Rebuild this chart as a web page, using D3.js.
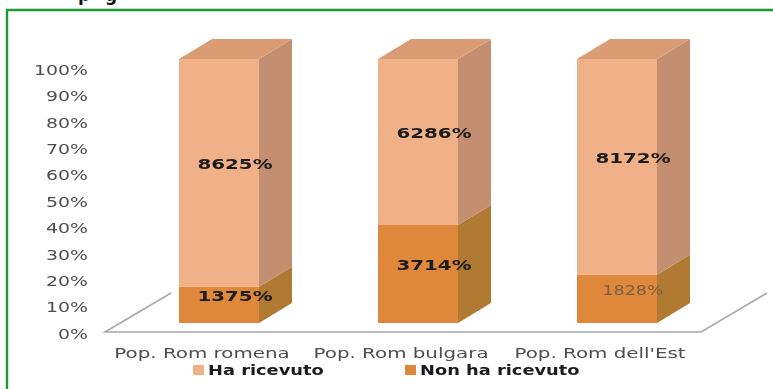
<!DOCTYPE html>
<html>
<head>
<meta charset="utf-8">
<script src="https://cdn.jsdelivr.net/npm/d3@7"></script>
<style>
  html, body { margin: 0; padding: 0; background: #fff; overflow: hidden; }
  svg { display: block; }
  text { font-family: "DejaVu Sans", sans-serif; }
</style>
</head>
<body>
<svg width="773" height="389"></svg>
<script>
var categories = ['Pop. Rom romena', 'Pop. Rom bulgara', "Pop. Rom dell'Est"];
var received = [86.25, 62.86, 81.72];
var notReceived = [13.75, 37.14, 18.28];
var receivedLabels = ['8625%', '6286%', '8172%'];
var notReceivedLabels = ['1375%', '3714%', '1828%'];
var yTicks = [0, 10, 20, 30, 40, 50, 60, 70, 80, 90, 100];
var legendNames = ['Ha ricevuto', 'Non ha ricevuto'];

var svg = d3.select('svg');
var depthX = 33, depthY = 20;

var x = d3.scaleBand().domain(categories).range([179, 657]).paddingInner(0.598).paddingOuter(0);
var y = d3.scaleLinear().domain([0, 100]).range([323, 59]);

// stretch text sideways, the original picture was scaled wider than tall
function stretch(sel, k) {
  sel.each(function () {
    var t = d3.select(this);
    t.attr('textLength', this.getComputedTextLength() * k).attr('lengthAdjust', 'spacingAndGlyphs');
  });
}

var blur = svg.append('defs').append('filter').attr('id', 'soft');
blur.append('feGaussianBlur').attr('stdDeviation', 0.4);

// heading above the frame, cut off by the top edge like the reference
svg.append('text').attr('x', 78).attr('y', 1).attr('font-size', 17).attr('font-weight', 'bold').attr('fill', '#111').text('p');
svg.append('text').attr('x', 105).attr('y', 1).attr('font-size', 17).attr('font-weight', 'bold').attr('fill', '#111').text('g');

// green frame, open on right and bottom
svg.append('path').attr('d', d3.line()([[7, 389], [7, 10], [773, 10]]))
  .attr('fill', 'none').attr('stroke', '#1c9a37').attr('stroke-width', 2.4);

var chart = svg.append('g').attr('filter', 'url(#soft)');

// floor
var floorY = y(0) + 9;
chart.append('path')
  .attr('d', d3.line()([[171, floorY - 39], [105, floorY], [701, floorY], [767, floorY - 39]]))
  .attr('fill', 'none').attr('stroke', '#a8a8ac').attr('stroke-width', 1.6);

var bars = chart.selectAll('g.bar').data(categories).enter().append('g').attr('class', 'bar');

bars.each(function (c, i) {
  var g = d3.select(this);
  var x0 = x(c), x1 = x0 + x.bandwidth();
  var split = y(notReceived[i]);
  var line = d3.line();

  g.append('path').attr('fill', '#DF873B').attr('d', line([[x0, y(0)], [x1, y(0)], [x1, split], [x0, split]]) + 'Z');
  g.append('path').attr('fill', '#F0B188').attr('d', line([[x0, split], [x1, split], [x1, y(100)], [x0, y(100)]]) + 'Z');
  g.append('path').attr('fill', '#B07A32')
    .attr('d', line([[x1, y(0)], [x1 + depthX, y(0) - depthY], [x1 + depthX, split - depthY], [x1, split]]) + 'Z');
  g.append('path').attr('fill', '#C48F70')
    .attr('d', line([[x1, split], [x1 + depthX, split - depthY], [x1 + depthX, y(100) - depthY], [x1, y(100)]]) + 'Z');
  g.append('path').attr('fill', '#DA9C74')
    .attr('d', line([[x0, y(100)], [x0 + depthX, y(100) - depthY], [x1 + depthX, y(100) - depthY], [x1, y(100)]]) + 'Z');

  // data labels, sit on the middle of each segment pushed toward the depth
  var cx = x0 + x.bandwidth() / 2 + 16;
  g.append('text').attr('class', 'val').attr('x', cx).attr('y', y(notReceived[i] + received[i] / 2) - 4)
    .attr('text-anchor', 'middle').attr('font-size', 13.5).attr('font-weight', 'bold').attr('fill', '#1a1a1a')
    .text(receivedLabels[i]);
  var last = i === 2;
  g.append('text').attr('class', 'val').attr('x', cx).attr('y', y(notReceived[i] / 2) - 4)
    .attr('text-anchor', 'middle').attr('font-size', 13.5).attr('font-weight', last ? 'normal' : 'bold')
    .attr('fill', last ? '#7a6148' : '#1a1a1a')
    .text(notReceivedLabels[i]);
});
stretch(chart.selectAll('text.val'), 1.47);
// the thin 1828% label is narrower in the reference
chart.selectAll('text.val').filter(function () { return this.textContent === '1828%'; }).each(function () {
  d3.select(this).attr('textLength', 61);
});

// y axis, labels only
var yAxis = chart.append('g').attr('transform', 'translate(88,11)')
  .call(d3.axisLeft(y).tickValues(yTicks).tickFormat(function (d) { return d + '%'; }).tickSize(0).tickPadding(0));
yAxis.select('.domain').remove();
yAxis.selectAll('text').attr('font-size', 13.7).attr('font-family', '"DejaVu Sans", sans-serif').attr('fill', '#4d4d4d');
stretch(yAxis.selectAll('text'), 1.38);

// x axis, labels only, shifted left of the bars
var xAxis = chart.append('g').attr('transform', 'translate(-17,348.5)')
  .call(d3.axisBottom(x).tickSize(0).tickPadding(0));
xAxis.select('.domain').remove();
xAxis.selectAll('text').attr('font-size', 13.7).attr('font-family', '"DejaVu Sans", sans-serif').attr('fill', '#4d4d4d');
stretch(xAxis.selectAll('text'), 1.45);

// legend
var legendColors = ['#F0B188', '#DF873B'];
var legendX = d3.scaleOrdinal().domain(legendNames).range([193, 405]);
var legend = chart.selectAll('g.leg').data(legendNames).enter().append('g').attr('class', 'leg')
  .attr('transform', function (d) { return 'translate(' + legendX(d) + ',365)'; });
legend.append('rect').attr('width', 11).attr('height', 10).attr('fill', function (d, i) { return legendColors[i]; });
legend.append('text').attr('x', 15).attr('y', 10).attr('font-size', 13.5).attr('font-weight', 'bold').attr('fill', '#1a1a1a')
  .text(function (d) { return d; });
stretch(legend.selectAll('text'), 1.32);
</script>
</body>
</html>
